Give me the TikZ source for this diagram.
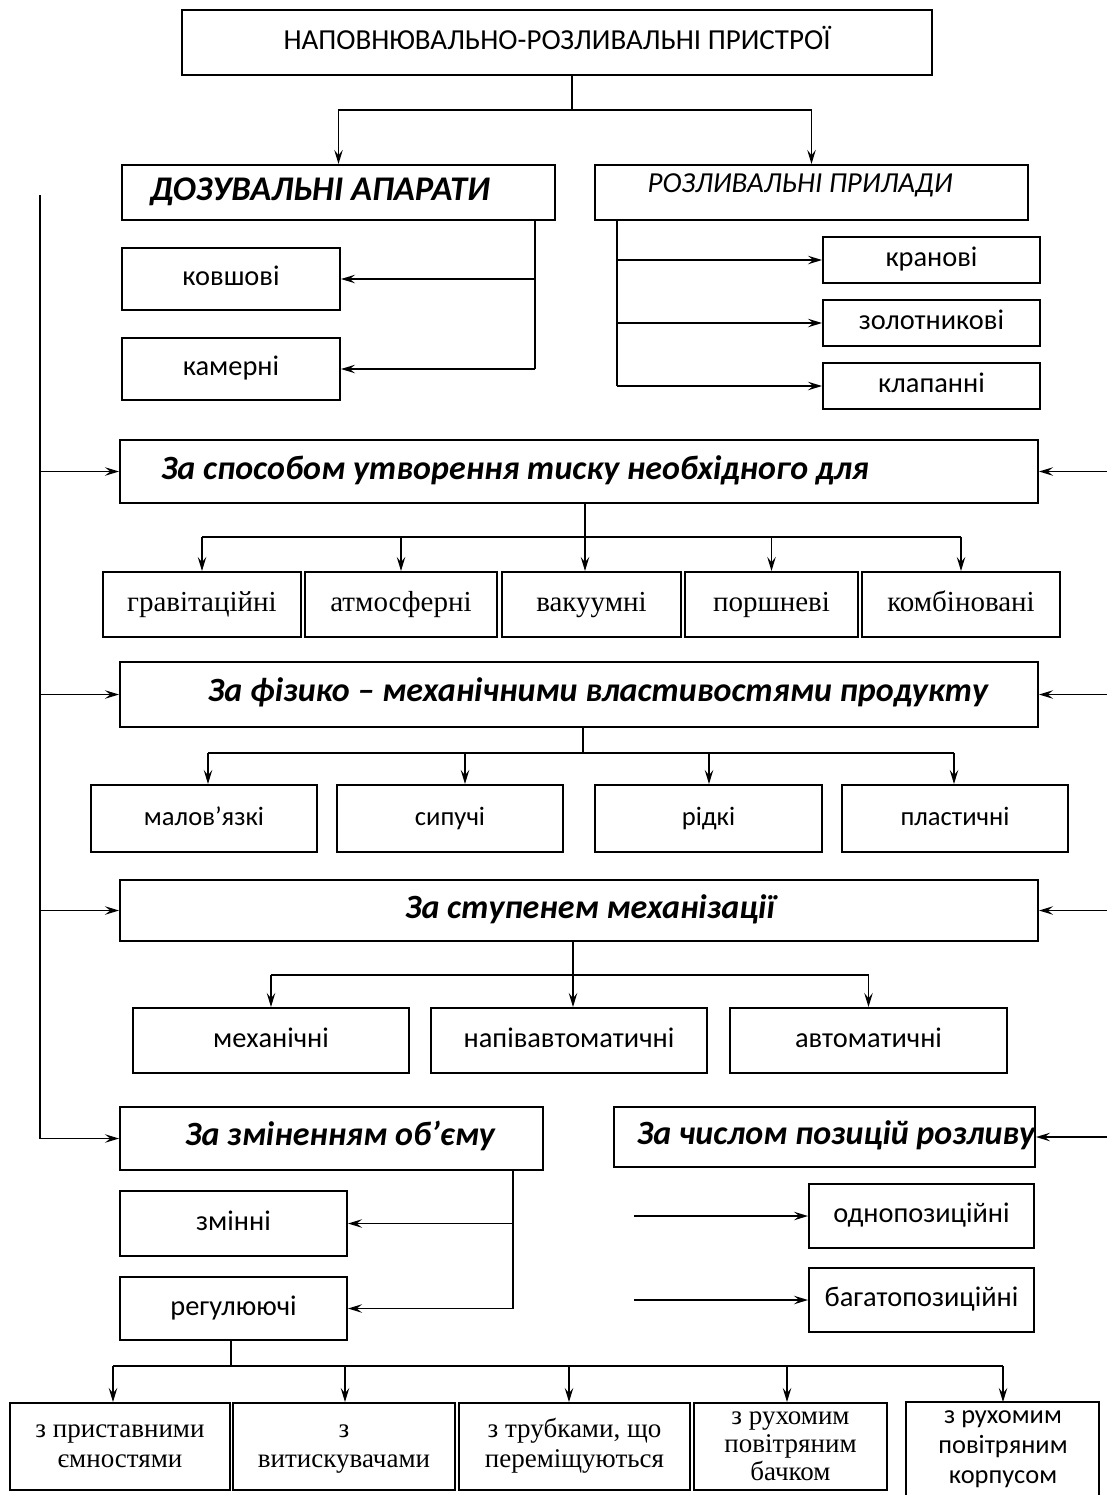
\documentclass[tikz,border=0pt]{standalone}
\usepackage{fontspec}
\setmainfont{Carlito}
\newfontfamily\serifcyr{Liberation Serif}
\usetikzlibrary{arrows.meta}
\newcommand\bx[7]{%
  \pgfmathsetmacro\bxw{(#4-#2)*0.5}%
  \pgfmathsetmacro\bxh{(#5-#3)*0.5}%
  \node[box,#6,minimum width=\bxw pt,minimum height=\bxh pt] (#1) at ({(#2+#4)/2},{(#3+#5)/2}) {#7};}
\begin{document}
\begin{tikzpicture}[x=0.5pt,y=-0.5pt,line width=0.95pt,
  box/.style={draw,inner sep=0pt,line width=0.95pt},
  one/.style={text height=10pt,text depth=3.2pt},
  arr/.style={-{Stealth[length=7pt,width=4.2pt,inset=2.6pt]}},
  ttl/.style={one,font=\fontsize{14.5}{17}\selectfont},
  bigbi/.style={text height=12pt,text depth=3.8pt,font=\fontsize{17.3}{20}\selectfont\bfseries\itshape},
  midi/.style={one,font=\fontsize{14.5}{17}\selectfont\itshape},
  cat/.style={text height=12pt,text depth=3.8pt,font=\fontsize{17}{20}\selectfont\bfseries\itshape},
  sm/.style={one,font=\fontsize{14.2}{16}\selectfont},
  smr/.style={one,font=\fontsize{13.3}{16}\selectfont},
  ser/.style={one,font=\fontsize{14.5}{17}\selectfont\serifcyr},
  serb/.style={font=\fontsize{13.5}{15}\selectfont\serifcyr,align=center},
  serc/.style={font=\fontsize{13.5}{14}\selectfont\serifcyr,align=center},
  smb/.style={font=\fontsize{13.2}{15}\selectfont,align=center}]
\useasboundingbox (0,0) rectangle (1107,1495);

% ---- top level
\bx{top}{182}{10}{932}{75}{ttl}{НАПОВНЮВАЛЬНО-РОЗЛИВАЛЬНІ ПРИСТРОЇ}
\bx{dz}{122}{165}{555}{220}{}{}
\node[bigbi] (dzt) at (320,192) {ДОЗУВАЛЬНІ АПАРАТИ};
\bx{rp}{595}{165}{1028}{220}{}{}
\node[midi] (rpt) at (800,186) {РОЗЛИВАЛЬНІ ПРИЛАДИ};

\bx{kov}{122}{248}{340}{310}{sm}{ковшові}
\bx{kam}{122}{338}{340}{400}{sm}{камерні}
\bx{kran}{823}{237}{1040}{283}{sm}{кранові}
\bx{zol}{823}{300}{1040}{346}{sm}{золотникові}
\bx{klap}{823}{363}{1040}{409}{sm}{клапанні}

% ---- category 1
\bx{c1}{120}{440}{1038}{503}{}{}
\node[cat] (c1t) at (515,471) {За способом утворення тиску необхідного для};
\bx{g1}{103}{572}{301}{637}{ser}{гравітаційні}
\bx{g2}{305}{572}{497}{637}{ser}{атмосферні}
\bx{g3}{502}{572}{681}{637}{ser}{вакуумні}
\bx{g4}{685}{572}{858}{637}{ser}{поршневі}
\bx{g5}{862}{572}{1060}{637}{ser}{комбіновані}

% ---- category 2
\bx{c2}{120}{662}{1038}{727}{}{}
\node[cat] (c2t) at (598,693) {За фізико – механічними властивостями продукту};
\bx{m1}{91}{785}{317}{852}{smr}{малов’язкі}
\bx{m2}{337}{785}{563}{852}{smr}{сипучі}
\bx{m3}{595}{785}{822}{852}{smr}{рідкі}
\bx{m4}{842}{785}{1068}{852}{smr}{пластичні}

% ---- category 3
\bx{c3}{120}{880}{1038}{941}{}{}
\node[cat] (c3t) at (590,910) {За ступенем механізації};
\bx{s1}{133}{1008}{409}{1073}{sm}{механічні}
\bx{s2}{431}{1008}{707}{1073}{sm}{напівавтоматичні}
\bx{s3}{730}{1008}{1007}{1073}{sm}{автоматичні}

% ---- category 4 and 5
\bx{c4}{120}{1107}{543}{1170}{}{}
\node[cat] (c4t) at (340,1137) {За зміненням об’єму};
\bx{c5}{614}{1107}{1035}{1167}{}{}
\node[cat] (c5t) at (836,1136) {За числом позицій розливу};

\bx{zm}{120}{1191}{347}{1256}{sm}{змінні}
\bx{rg}{120}{1277}{347}{1340}{sm}{регулюючі}
\bx{odn}{809}{1184}{1034}{1248}{sm}{однопозиційні}
\bx{bag}{809}{1268}{1034}{1332}{sm}{багатопозиційні}

% ---- bottom row
\bx{b1}{10}{1403}{230}{1490}{serb}{\strut з приставними\\\strut ємностями}
\bx{b2}{233}{1403}{455}{1490}{serb}{\strut з\\\strut витискувачами}
\bx{b3}{459}{1403}{690}{1490}{serb}{\strut з трубками, що\\\strut переміщуються}
\bx{b4}{694}{1403}{887}{1490}{serc}{\strut з рухомим\\\strut повітряним\\\strut бачком}
\bx{b5}{907}{1403}{1098}{1497}{draw=none}{}
\node[smb] (b5t) at (1003,1449) {з рухомим\\повітряним\\корпусом};
\draw (b5.south west) |- (b5.north east) -- (b5.south east);

% ---- connectors: top
\coordinate (j1) at (572,110);
\draw (top.south -| j1) -- (j1);
\draw[arr] (j1) -| (dz.north);
\draw[arr] (j1) -| (rp.north);

\coordinate (j2) at (535,0);
\draw (dz.south -| j2) -- (j2 |- kam.east);
\draw[arr] (j2 |- kov.east) -- (kov.east);
\draw[arr] (j2 |- kam.east) -- (kam.east);

\coordinate (j3) at (617,0);
\draw (rp.south -| j3) -- (j3 |- klap.west);
\draw[arr] (j3 |- kran.west) -- (kran.west);
\draw[arr] (j3 |- zol.west) -- (zol.west);
\draw[arr] (j3 |- klap.west) -- (klap.west);

% ---- side feeders
\coordinate (L) at (40,195);
\draw (L) -- (L |- c4.west);
\foreach \n in {c1,c2,c3,c4} \draw[arr] (L |- \n.west) -- (\n.west);
\coordinate (R) at (1107,0);
\foreach \n in {c1,c2,c3,c5} \draw[arr] (R |- \n.east) -- (\n.east);

% ---- category 1 branches
\coordinate (j4) at (585,537);
\draw (c1.south -| j4) -- (j4);
\draw (g1.north |- j4) -- (g5.north |- j4);
\foreach \n in {g1,g2,g4,g5} \draw[arr] (\n.north |- j4) -- (\n.north);
\draw[arr] (j4) -- (g3.north -| j4);

% ---- category 2 branches
\coordinate (j5) at (583,753);
\coordinate (a1) at (208,0);
\coordinate (a2) at (465,0);
\coordinate (a3) at (709,0);
\coordinate (a4) at (954,0);
\draw (c2.south -| j5) -- (j5);
\draw (a1 |- j5) -- (a4 |- j5);
\draw[arr] (a1 |- j5) -- (a1 |- m1.north);
\draw[arr] (a2 |- j5) -- (a2 |- m2.north);
\draw[arr] (a3 |- j5) -- (a3 |- m3.north);
\draw[arr] (a4 |- j5) -- (a4 |- m4.north);

% ---- category 3 branches
\coordinate (j6) at (573,975);
\draw (c3.south -| j6) -- (j6);
\draw (s1.north |- j6) -- (s3.north |- j6);
\draw[arr] (s1.north |- j6) -- (s1.north);
\draw[arr] (j6) -- (s2.north -| j6);
\draw[arr] (s3.north |- j6) -- (s3.north);

% ---- category 4 branches
\coordinate (j7) at (513,0);
\draw (c4.south -| j7) -- (j7 |- rg.east);
\draw[arr] (j7 |- zm.east) -- (zm.east);
\draw[arr] (j7 |- rg.east) -- (rg.east);

% ---- category 5 branches
\coordinate (o1) at (634,0);
\draw[arr] (o1 |- odn.west) -- (odn.west);
\draw[arr] (o1 |- bag.west) -- (bag.west);

% ---- bottom branches
\coordinate (j8) at (231,1366);
\coordinate (e1) at (113,0);
\coordinate (e2) at (345,0);
\coordinate (e3) at (569,0);
\coordinate (e4) at (787,0);
\coordinate (e5) at (1003,0);
\draw (rg.south -| j8) -- (j8);
\draw (e1 |- j8) -- (e5 |- j8);
\draw[arr] (e1 |- j8) -- (e1 |- b1.north);
\draw[arr] (e2 |- j8) -- (e2 |- b2.north);
\draw[arr] (e3 |- j8) -- (e3 |- b3.north);
\draw[arr] (e4 |- j8) -- (e4 |- b4.north);
\draw[arr] (e5 |- j8) -- (e5 |- b5.north);
\end{tikzpicture}
\end{document}
